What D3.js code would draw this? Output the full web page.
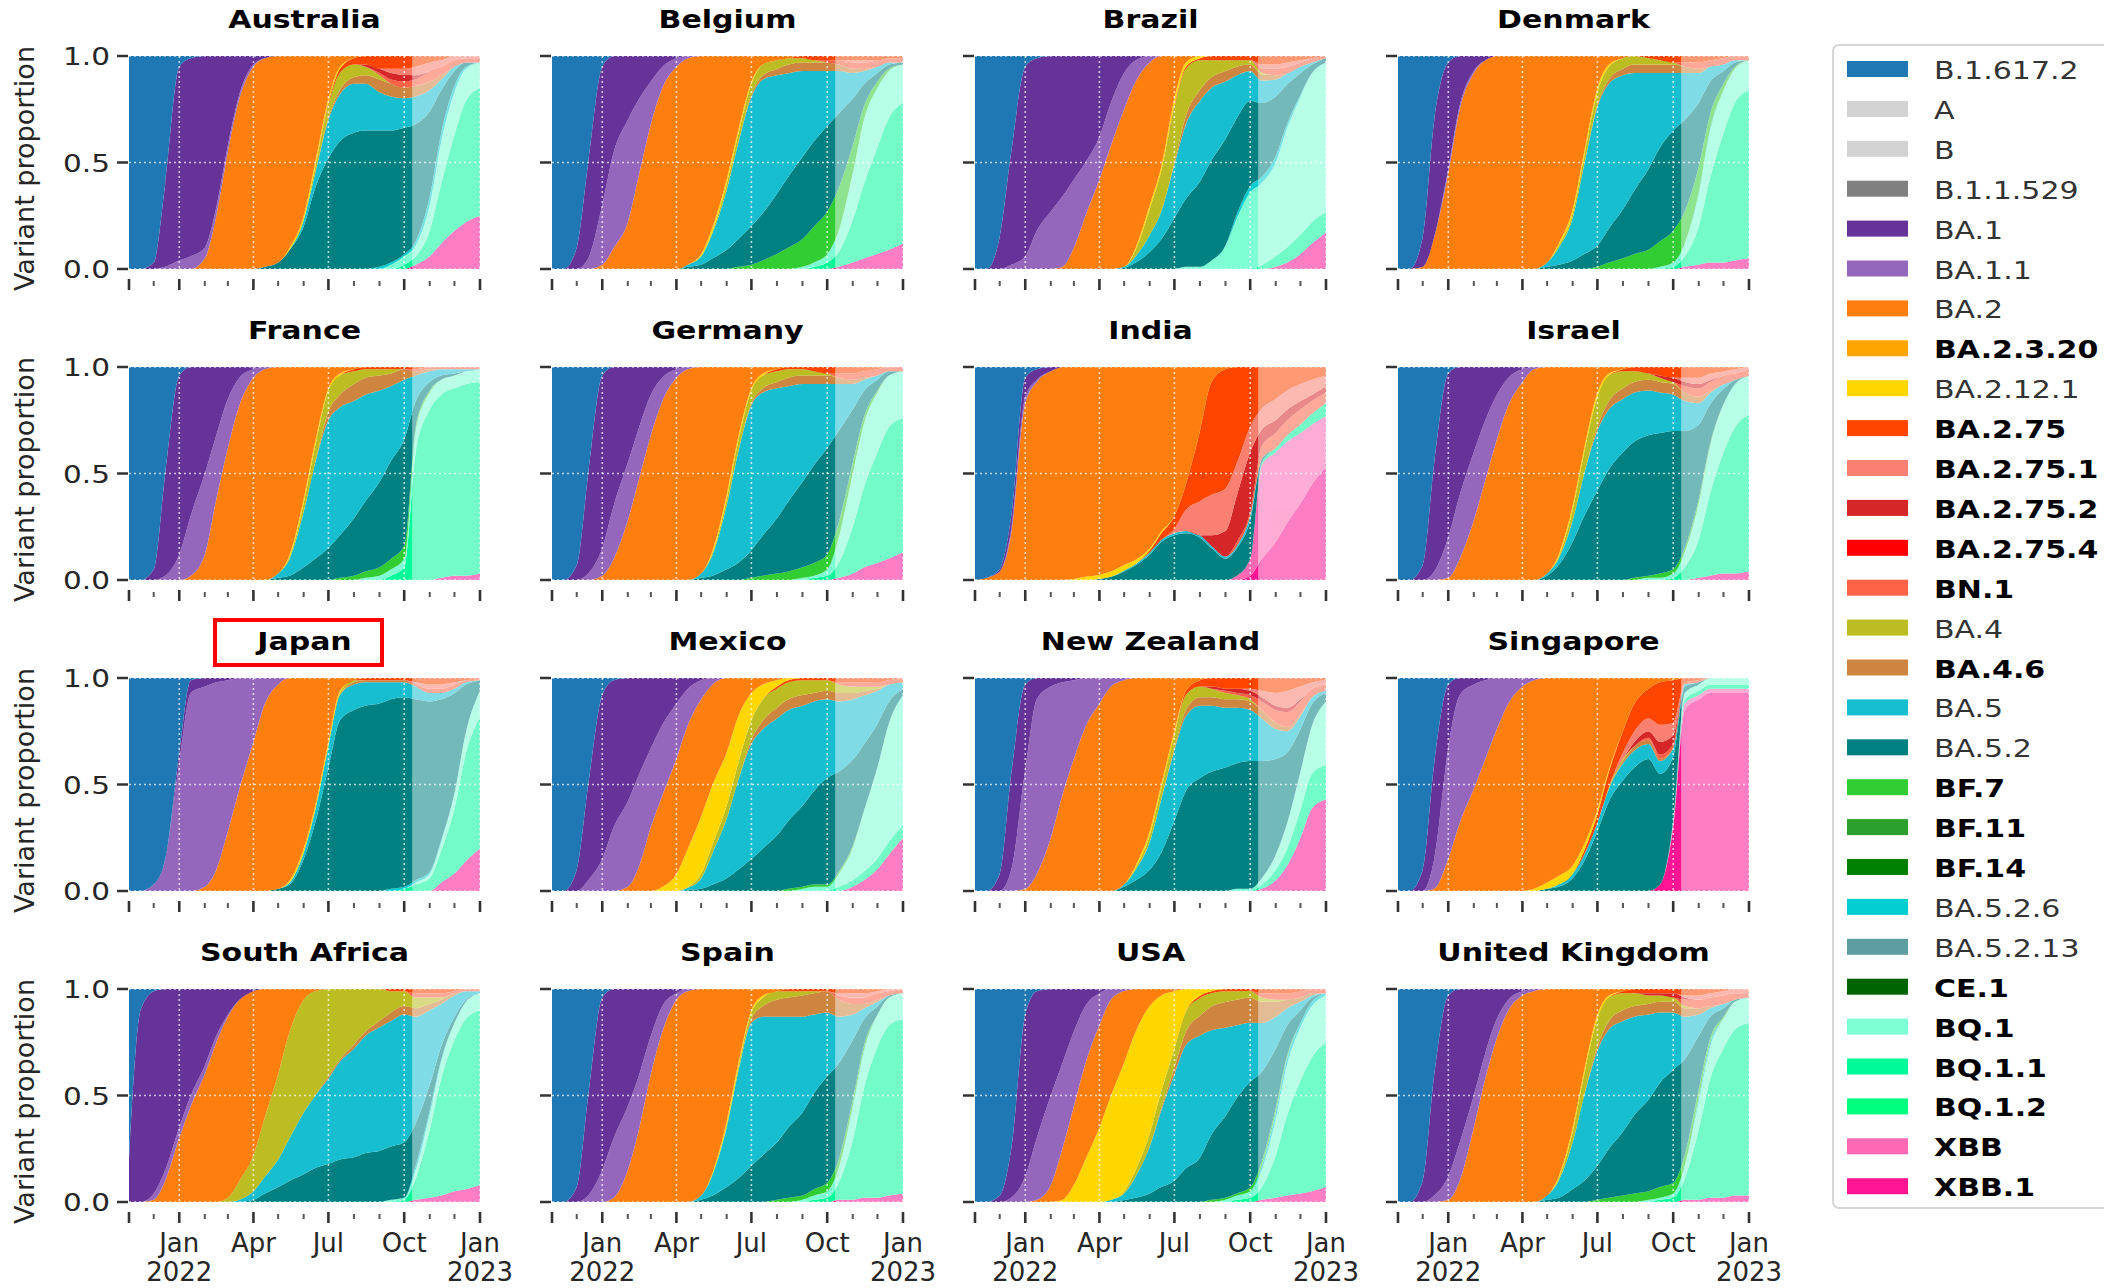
<!DOCTYPE html>
<html><head><meta charset="utf-8">
<script src="https://cdn.jsdelivr.net/npm/d3@7"></script>
<style>body{margin:0;background:#fff;} svg text{font-family:"DejaVu Sans",sans-serif;}</style>
</head><body>
<svg id="chart" width="2104" height="1288"></svg>
<script>
const dates = ["2021-11-01","2021-11-15","2021-12-01","2021-12-15","2022-01-01","2022-01-15","2022-02-01","2022-02-15","2022-03-01","2022-03-15","2022-04-01","2022-04-15","2022-05-01","2022-05-15","2022-06-01","2022-06-15","2022-07-01","2022-07-15","2022-08-01","2022-08-15","2022-09-01","2022-09-15","2022-10-01","2022-10-15","2022-11-01","2022-11-15","2022-12-01","2022-12-15","2023-01-01"];
const forecastStart = "2022-10-11";
const variants = ["B.1.617.2","A","B","B.1.1.529","BA.1","BA.1.1","BA.2","BA.2.3.20","BA.2.12.1","BA.2.75","BA.2.75.1","BA.2.75.2","BA.2.75.4","BN.1","BA.4","BA.4.6","BA.5","BA.5.2","BF.7","BF.11","BF.14","BA.5.2.6","BA.5.2.13","CE.1","BQ.1","BQ.1.1","BQ.1.2","XBB","XBB.1"];
const variantColors = ["#1f77b4","#d3d3d3","#d3d3d3","#808080","#663399","#9467bd","#ff7f0e","#ffa500","#ffd700","#ff4500","#fa8072","#d62728","#ff0000","#ff6347","#bcbd22","#cd853f","#17becf","#008080","#32cd32","#2ca02c","#008000","#00ced1","#5f9ea0","#006400","#7fffd4","#00fa9a","#00ff7f","#ff69b4","#ff1493"];
const boldVariants = ["BA.2.3.20","BA.2.75","BA.2.75.1","BA.2.75.2","BA.2.75.4","BN.1","BA.4.6","BF.7","BF.11","BF.14","CE.1","BQ.1","BQ.1.1","BQ.1.2","XBB","XBB.1"];
const countries = ["Australia","Belgium","Brazil","Denmark","France","Germany","India","Israel","Japan","Mexico","New Zealand","Singapore","South Africa","Spain","USA","United Kingdom"];
const highlighted = ["Japan"];
const xLabelDates = ["2022-01-01","2022-04-01","2022-07-01","2022-10-01","2023-01-01"];
const xLabelLines = [["Jan","2022"],["Apr"],["Jul"],["Oct"],["Jan","2023"]];
const yTickValues = [0, 0.5, 1];
const yTickLabels = ["0.0","0.5","1.0"];

// [variant, first half-month index, shares...]
const australia = [
 ["B.1.617.2",0,[1,.99,.97,.6,.05,.01]],
 ["BA.1",2,[.03,.39,.91,.93,.9,.71,.42,.18,.04,.01]],
 ["BA.1.1",3,[.01,.04,.06,.05,.04,.03,.02,.01]],
 ["BA.2",6,[.05,.25,.55,.8,.95,.98,.97,.9,.75,.5,.2,.05,.01]],
 ["BA.2.12.1",13,[.01,.02,.02,.02,.01]],
 ["BA.2.75",16,[.01,.02,.03,.04,.06,.06,.06,.05,.03,.02]],
 ["BA.2.75.1",21,[.02,.03,.04,.04,.03,.02,.01,.01]],
 ["BA.2.75.2",19,[.01,.02,.03,.03,.02]],
 ["BN.1",20,[.01,.02,.03,.03,.05,.04,.03,.02,.02]],
 ["BA.4",15,[.03,.06,.08,.06,.04,.02]],
 ["BA.4.6",16,[.01,.02,.03,.04,.06,.06,.05,.05,.04,.02]],
 ["BA.5",14,[.03,.07,.18,.22,.23,.22,.18,.16,.14,.13,.1,.05,.02]],
 ["BA.5.2",11,[.01,.03,.09,.2,.38,.52,.6,.64,.65,.64,.62,.6,.55,.4,.2,.07,.02]],
 ["BA.5.2.6",20,[.01,.01,.01,.02,.04,.04,.03,.01]],
 ["BQ.1",21,[.02,.04,.05,.12,.2,.2,.15,.12]],
 ["BQ.1.1",22,[.02,.04,.12,.28,.45,.57,.6]],
 ["XBB.1",23,[.02,.06,.12,.18,.22,.25]]
];
const belgium = [
 ["B.1.617.2",0,[1,.99,.9,.5,.05]],
 ["BA.1",2,[.1,.45,.65,.45,.3,.2,.12,.05,.01]],
 ["BA.1.1",3,[.05,.28,.45,.48,.35,.2,.1,.04,.01]],
 ["BA.2",4,[.02,.1,.22,.45,.68,.85,.95,.97,.93,.8,.58,.35,.12,.04,.02,.01]],
 ["BA.2.12.1",12,[.01,.02,.02,.02,.01]],
 ["BA.2.75",20,[.01,.02,.02,.02,.02,.02,.02,.01,.01]],
 ["BA.2.75.1",24,[.01,.01]],
 ["BN.1",22,[.01,.02,.03,.03,.03,.02,.02]],
 ["BA.4",13,[.01,.03,.04,.05,.05,.04,.03,.02,.01]],
 ["BA.4.6",16,[.01,.02,.03,.04,.04,.04,.04,.03,.02,.01]],
 ["BA.5",11,[.01,.04,.12,.28,.45,.6,.62,.55,.48,.4,.33,.26,.2,.12,.06,.03,.01]],
 ["BA.5.2",11,[.01,.02,.05,.09,.13,.18,.22,.28,.33,.38,.4,.4,.35,.22,.1,.04,.02,.01]],
 ["BF.7",15,[.01,.02,.04,.07,.1,.13,.17,.2,.2,.13,.06,.03,.01]],
 ["BQ.1",20,[.01,.02,.04,.1,.22,.3,.28,.22,.18]],
 ["BQ.1.1",21,[.01,.03,.07,.2,.35,.5,.62,.66]],
 ["XBB.1",23,[.01,.03,.05,.07,.09,.12]]
];
const brazil = [
 ["B.1.617.2",0,[1,.97,.85,.45,.05,.01]],
 ["BA.1",2,[.15,.53,.89,.81,.73,.66,.58,.5,.38,.22,.08,.02]],
 ["BA.1.1",3,[.02,.06,.18,.27,.33,.32,.25,.2,.2,.17,.1,.03]],
 ["BA.2",7,[.01,.1,.25,.42,.58,.74,.78,.67,.52,.2,.03]],
 ["BA.2.12.1",13,[.01,.02,.02,.03,.02,.01]],
 ["BA.2.75",16,[.01,.01,.01,.02,.02,.02,.02,.04,.04,.03,.02,.01]],
 ["BA.2.75.1",23,[.02,.02,.02,.01]],
 ["BN.1",23,[.02,.03,.03,.02,.02,.01]],
 ["BA.4",13,[.03,.12,.19,.26,.22,.14,.08,.05,.03,.02,.01]],
 ["BA.4.6",16,[.01,.04,.05,.05,.05,.04,.03,.03,.02]],
 ["BA.5",12,[.005,.03,.08,.13,.25,.35,.38,.34,.27,.2,.14,.11,.08,.05,.03,.01]],
 ["BA.5.2",12,[.005,.03,.08,.14,.24,.32,.4,.47,.5,.45,.4,.36,.28,.18,.1,.04,.02]],
 ["BA.5.2.6",21,[.02,.03,.03,.03,.02,.01]],
 ["BQ.1",17,[.01,.01,.04,.11,.24,.36,.4,.44,.55,.64,.7,.7]],
 ["BQ.1.1",23,[.02,.05,.07,.09,.1,.1]],
 ["XBB.1",24,[.01,.03,.07,.12,.17]]
];
const denmark = [
 ["B.1.617.2",0,[1,.99,.85,.3,.03]],
 ["BA.1",2,[.14,.55,.5,.23,.07,.02]],
 ["BA.1.1",4,[.02,.02,.01]],
 ["BA.2",2,[.01,.15,.45,.75,.92,.98,1,1,1,1,.97,.88,.72,.45,.15,.04,.01]],
 ["BA.2.12.1",13,[.01,.02,.02,.02,.01]],
 ["BA.2.75",20,[.01,.02,.03,.03,.03,.02,.01]],
 ["BN.1",23,[.02,.03,.03,.03,.02,.02]],
 ["BA.4",13,[.01,.02,.04,.06,.06,.05,.04,.03,.02,.01]],
 ["BA.4.6",16,[.01,.02,.03,.04,.04,.04,.04,.03,.02]],
 ["BA.5",12,[.02,.08,.2,.42,.65,.68,.63,.55,.45,.35,.27,.22,.14,.07,.03,.01]],
 ["BA.5.2",12,[.01,.02,.04,.07,.1,.16,.23,.3,.38,.44,.47,.43,.3,.15,.06,.02]],
 ["BF.7",16,[.01,.03,.05,.07,.09,.12,.15,.15,.12,.07,.03,.01]],
 ["BA.5.2.6",24,[.01,.01]],
 ["BQ.1",21,[.01,.02,.06,.15,.22,.2,.16,.14]],
 ["BQ.1.1",22,[.01,.05,.18,.4,.6,.74,.79]],
 ["XBB.1",23,[.01,.02,.03,.03,.04,.05]]
];
const france = [
 ["B.1.617.2",0,[1,1,.95,.5,.04]],
 ["BA.1",2,[.05,.48,.84,.69,.5,.32,.15,.05,.01]],
 ["BA.1.1",3,[.02,.12,.28,.38,.3,.23,.13,.04,.01]],
 ["BA.2",5,[.02,.12,.38,.62,.82,.95,.99,.97,.88,.62,.35,.1,.03,.01]],
 ["BA.2.12.1",13,[.01,.02,.02,.01,.01]],
 ["BA.2.75",18,[.01,.01,.01,.01,.01,.01]],
 ["BN.1",23,[.01,.01,.01,.01,.01,.01]],
 ["BA.4",13,[.01,.04,.08,.1,.09,.06,.04,.03,.02]],
 ["BA.4.6",16,[.04,.06,.08,.08,.07,.06,.05,.02,.01]],
 ["BA.5",12,[.02,.08,.26,.45,.6,.6,.55,.5,.43,.35,.28,.12,.05,.03,.02,.01]],
 ["BA.5.2",12,[.01,.02,.06,.1,.15,.2,.27,.33,.4,.46,.5,.12,.04,.02,.01]],
 ["BF.7",17,[.01,.02,.03,.04,.05,.06,.02,.01]],
 ["BQ.1",19,[.01,.02,.03,.04,.1,.08,.07,.06,.06,.06]],
 ["BQ.1.1",21,[.02,.06,.6,.8,.86,.88,.9,.9]],
 ["XBB.1",25,[.01,.02,.02,.03]]
];
const germany = [
 ["B.1.617.2",0,[1,1,.93,.5,.04]],
 ["BA.1",2,[.07,.47,.81,.65,.45,.28,.13,.05,.01]],
 ["BA.1.1",3,[.03,.13,.25,.27,.24,.19,.11,.04,.01]],
 ["BA.2",4,[.02,.1,.28,.48,.68,.84,.95,.99,.97,.86,.6,.33,.1,.03,.01]],
 ["BA.2.12.1",13,[.01,.02,.02,.01,.01]],
 ["BA.2.75",18,[.01,.01,.01,.02,.03,.03,.03,.02,.01]],
 ["BN.1",23,[.02,.03,.03,.03,.02,.02]],
 ["BA.4",13,[.01,.03,.05,.06,.06,.05,.04,.03,.02,.01]],
 ["BA.4.6",16,[.01,.02,.03,.04,.04,.04,.04,.03,.02,.01]],
 ["BA.5",12,[.02,.1,.3,.52,.68,.67,.61,.54,.46,.38,.3,.22,.12,.05,.02]],
 ["BA.5.2",12,[.01,.02,.05,.08,.13,.19,.26,.33,.4,.46,.5,.43,.25,.12,.05,.02]],
 ["BF.7",16,[.01,.02,.03,.04,.05,.06,.07,.07,.05,.03,.01]],
 ["BQ.1",20,[.01,.01,.03,.12,.25,.3,.28,.24,.22]],
 ["BQ.1.1",21,[.01,.02,.07,.22,.38,.52,.61,.63]],
 ["XBB.1",23,[.01,.03,.06,.08,.1,.13]]
];
const india = [
 ["B.1.617.2",0,[1,.99,.95,.7,.05,.01]],
 ["BA.1",2,[.01,.06,.09,.05,.02]],
 ["BA.1.1",3,[.02,.03,.01]],
 ["BA.2",1,[.01,.04,.22,.83,.93,.98,1,.995,.985,.975,.96,.93,.91,.86,.78,.7,.55,.3,.07,.01]],
 ["BA.2.12.1",8,[.005,.015,.02,.025,.025,.02,.01,.01]],
 ["BA.2.75",14,[.01,.03,.06,.12,.33,.53,.56,.45,.28,.2,.15,.11,.08,.06,.04]],
 ["BA.2.75.1",16,[.02,.1,.16,.19,.2,.15,.12,.1,.1,.09,.08,.07,.05]],
 ["BA.2.75.2",19,[.05,.12,.22,.28,.08,.06,.05,.04,.03,.03]],
 ["BN.1",21,[.02,.02,.06,.07,.07,.07,.06,.05]],
 ["BA.5",12,[.005,.005,.01,.01,.01,.01,.01,.01,.01,.01,.02]],
 ["BA.5.2",10,[.005,.015,.04,.07,.12,.18,.21,.22,.2,.15,.1,.13,.18,.02]],
 ["BQ.1.1",23,[.01,.02,.03,.04,.05,.06]],
 ["XBB",21,[.02,.08,.45,.42,.38,.33,.28,.24]],
 ["XBB.1",22,[.02,.1,.18,.27,.36,.45,.53]]
];
const israel = [
 ["B.1.617.2",0,[1,.99,.93,.45,.03]],
 ["BA.1",2,[.07,.51,.77,.6,.4,.25,.13,.05,.01]],
 ["BA.1.1",3,[.04,.19,.3,.32,.28,.21,.13,.06,.01]],
 ["BA.2",4,[.01,.1,.28,.47,.66,.82,.93,.99,.97,.88,.65,.38,.12,.03,.01]],
 ["BA.2.12.1",13,[.01,.02,.02,.02,.01]],
 ["BA.2.75",18,[.01,.02,.03,.04,.05,.05,.05,.03,.02,.01]],
 ["BA.2.75.1",23,[.02,.03,.03,.02,.02,.01]],
 ["BA.2.75.2",21,[.01,.02,.02,.02,.01]],
 ["BN.1",23,[.03,.04,.04,.04,.03,.03]],
 ["BA.4",13,[.01,.05,.1,.14,.12,.08,.05,.03,.02,.01]],
 ["BA.4.6",16,[.02,.04,.05,.05,.05,.05,.05,.04,.03,.01]],
 ["BA.5",12,[.01,.03,.1,.2,.28,.28,.25,.23,.21,.19,.17,.14,.1,.05,.02]],
 ["BA.5.2",12,[.02,.07,.18,.3,.42,.52,.6,.64,.66,.66,.65,.55,.35,.18,.07,.02]],
 ["BF.7",19,[.01,.01,.02,.02,.02,.02,.01]],
 ["BQ.1",20,[.01,.01,.02,.07,.17,.22,.22,.2,.18]],
 ["BQ.1.1",22,[.01,.06,.18,.38,.55,.68,.72]],
 ["XBB.1",24,[.01,.02,.03,.03,.04]]
];
const japan = [
 ["B.1.617.2",0,[1,1,.97,.85,.35,.01]],
 ["BA.1",4,[.05,.06,.04,.02,.01]],
 ["BA.1.1",2,[.03,.15,.6,.93,.94,.88,.71,.52,.3,.12,.03]],
 ["BA.2",6,[.02,.1,.28,.48,.7,.88,.96,.95,.8,.6,.3,.06,.01]],
 ["BA.2.12.1",13,[.01,.02,.02,.02,.01]],
 ["BA.2.75",19,[.01,.01,.01,.01,.02,.03,.03,.02,.01]],
 ["BA.2.75.1",23,[.01,.02,.02,.01]],
 ["BN.1",23,[.01,.02,.02,.02,.01,.01]],
 ["BA.4",17,[.01,.01]],
 ["BA.4.6",18,[.01,.01,.01,.01,.01]],
 ["BA.5",13,[.01,.03,.06,.1,.12,.12,.11,.1,.08,.07,.06,.04,.03,.02,.01]],
 ["BA.5.2",12,[.01,.03,.15,.32,.58,.8,.85,.87,.88,.89,.89,.85,.8,.66,.46,.22,.05]],
 ["BA.5.2.6",21,[.01,.01,.01,.01,.01]],
 ["BQ.1",23,[.01,.02,.04,.07,.1,.12]],
 ["BQ.1.1",22,[.01,.03,.06,.15,.3,.5,.62]],
 ["XBB.1",25,[.04,.08,.14,.2]]
];
const mexico = [
 ["B.1.617.2",0,[1,1,.9,.5,.08,.01]],
 ["BA.1",2,[.1,.45,.77,.69,.58,.45,.33,.22,.12,.05,.01]],
 ["BA.1.1",3,[.05,.15,.3,.4,.43,.37,.33,.26,.17,.09,.03]],
 ["BA.2",6,[.02,.12,.3,.43,.54,.58,.55,.47,.35,.18,.07,.03,.01]],
 ["BA.2.12.1",9,[.02,.08,.18,.27,.28,.25,.22,.13,.07,.03,.01]],
 ["BA.2.75",18,[.01,.01,.01,.01,.01,.02,.02,.02,.02,.01]],
 ["BN.1",23,[.01,.02,.02,.02,.02,.02]],
 ["BA.4",11,[.005,.02,.04,.06,.08,.09,.1,.09,.08,.07,.06,.05,.04,.03,.02,.01]],
 ["BA.4.6",16,[.02,.04,.05,.05,.05,.04,.04,.04,.03,.02,.01]],
 ["BA.5",11,[.01,.05,.15,.28,.42,.54,.56,.55,.52,.47,.42,.37,.33,.28,.22,.15,.08,.03]],
 ["BA.5.2",11,[.005,.01,.03,.06,.1,.15,.2,.26,.32,.38,.44,.5,.47,.4,.3,.2,.1,.03]],
 ["BF.7",19,[.01,.01,.01,.01,.01,.01]],
 ["BQ.1",20,[.01,.02,.02,.06,.15,.28,.42,.55,.61]],
 ["BQ.1.1",23,[.02,.03,.04,.05,.06,.06]],
 ["XBB.1",24,[.02,.05,.1,.17,.25]]
];
const newZealand = [
 ["B.1.617.2",0,[1,1,.92,.45,.03]],
 ["BA.1",2,[.08,.45,.4,.1,.04,.02,.01]],
 ["BA.1.1",3,[.1,.56,.82,.71,.53,.37,.23,.12,.04,.01]],
 ["BA.2",4,[.01,.08,.25,.45,.62,.77,.88,.96,.96,.88,.72,.5,.25,.06,.01]],
 ["BA.2.12.1",13,[.01,.02,.02,.02]],
 ["BA.2.75",17,[.02,.03,.04,.05,.05,.05,.06,.07,.06,.04,.02,.01]],
 ["BA.2.75.1",22,[.01,.03,.06,.08,.06,.03,.02]],
 ["BA.2.75.2",19,[.01,.01,.02,.02,.02,.02,.02,.01]],
 ["BN.1",20,[.01,.01,.02,.04,.06,.07,.06,.04,.03]],
 ["BA.4",13,[.01,.03,.05,.06,.07,.05,.04,.03,.02,.01]],
 ["BA.4.6",16,[.01,.03,.04,.04,.04,.04,.04,.04,.03,.02,.01]],
 ["BA.5",12,[.01,.05,.13,.25,.33,.35,.34,.31,.28,.26,.24,.2,.14,.1,.06,.03,.01]],
 ["BA.5.2",12,[.02,.05,.1,.18,.33,.47,.53,.56,.58,.59,.6,.55,.45,.33,.2,.1,.04]],
 ["BQ.1",21,[.01,.01,.03,.07,.12,.18,.22,.3]],
 ["BQ.1.1",23,[.02,.05,.08,.13,.16,.16]],
 ["XBB.1",23,[.01,.05,.12,.25,.38,.43]]
];
const singapore = [
 ["B.1.617.2",0,[1,1,.9,.4,.03]],
 ["BA.1",2,[.1,.45,.3,.08,.03,.01]],
 ["BA.1.1",3,[.14,.52,.6,.49,.37,.24,.12,.04,.01]],
 ["BA.2",3,[.01,.15,.32,.48,.62,.76,.88,.96,.98,.96,.93,.88,.78,.62,.43,.25,.12,.05,.02,.01]],
 ["BA.2.12.1",11,[.01,.03,.04,.04,.03,.02,.01]],
 ["BA.2.75",15,[.02,.04,.07,.1,.13,.14,.2,.2,.02,.01]],
 ["BA.2.75.1",18,[.03,.05,.06,.08,.06]],
 ["BA.2.75.2",19,[.02,.03,.06,.04]],
 ["BN.1",20,[.01,.02,.02,.01,.01]],
 ["BA.4",17,[.01,.01]],
 ["BA.4.6",18,[.01,.02,.02,.01]],
 ["BA.5",13,[.01,.02,.03,.04,.06,.08,.08,.07,.06,.04,.01]],
 ["BA.5.2",12,[.01,.02,.06,.14,.28,.42,.52,.58,.62,.52,.3,.03,.01]],
 ["BQ.1",22,[.01,.03,.03,.03,.03,.03,.03]],
 ["BQ.1.1",23,[.02,.02,.02,.02,.02,.02]],
 ["XBB",22,[.02,.03,.02,.02,.02,.02,.02]],
 ["XBB.1",21,[.03,.3,.85,.9,.93,.93,.93,.93]]
];
const southAfrica = [
 ["B.1.617.2",0,[.8,.1,.01]],
 ["BA.1",0,[.2,.9,.95,.85,.65,.5,.36,.22,.12,.05,.01]],
 ["BA.1.1",2,[.03,.05,.05,.05,.04,.03,.01]],
 ["BA.2",2,[.01,.1,.3,.45,.6,.75,.85,.85,.77,.6,.4,.2,.05,.01]],
 ["BA.2.75",21,[.01,.01,.02,.02,.02,.01]],
 ["BN.1",23,[.02,.02,.02,.01,.01,.01]],
 ["BA.4",8,[.02,.09,.17,.28,.4,.5,.53,.49,.41,.33,.26,.2,.15,.1,.07,.05,.03,.01]],
 ["BA.4.6",16,[.01,.01,.02,.02,.03,.04,.04,.04,.03,.02,.01]],
 ["BA.5",9,[.01,.04,.08,.13,.2,.29,.34,.4,.46,.51,.55,.58,.59,.6,.5,.35,.2,.1,.04,.01]],
 ["BA.5.2",10,[.01,.04,.07,.1,.13,.16,.18,.2,.21,.23,.24,.25,.26,.2,.12,.06,.03,.01]],
 ["BA.5.2.6",23,[.02,.02,.01]],
 ["BQ.1",21,[.01,.01,.04,.07,.08,.08,.08,.08]],
 ["BQ.1.1",22,[.01,.1,.32,.55,.71,.8,.82]],
 ["XBB.1",23,[.01,.02,.03,.05,.06,.08]]
];
const spain = [
 ["B.1.617.2",0,[1,1,.93,.5,.04]],
 ["BA.1",2,[.07,.47,.81,.7,.55,.4,.22,.08,.02]],
 ["BA.1.1",3,[.03,.15,.28,.3,.25,.18,.12,.03,.01]],
 ["BA.2",5,[.02,.15,.35,.6,.8,.95,.99,.97,.86,.62,.35,.1,.03,.01]],
 ["BA.2.12.1",13,[.01,.02,.02,.01,.01]],
 ["BA.2.75",19,[.01,.01,.01,.01,.02,.02,.02,.01]],
 ["BA.2.75.1",23,[.01,.02,.02,.01,.01]],
 ["BN.1",23,[.02,.03,.03,.03,.02,.02]],
 ["BA.4",14,[.01,.02,.03,.04,.04,.03,.02,.01]],
 ["BA.4.6",16,[.02,.05,.08,.09,.1,.1,.1,.08,.05,.02,.01]],
 ["BA.5",12,[.02,.1,.28,.5,.67,.65,.59,.52,.45,.37,.3,.22,.12,.05,.02]],
 ["BA.5.2",12,[.01,.03,.07,.11,.17,.22,.27,.33,.39,.45,.5,.45,.28,.12,.04,.01]],
 ["BF.7",18,[.01,.02,.02,.03,.04,.04,.03,.02]],
 ["BA.5.2.6",24,[.01,.01]],
 ["BQ.1",20,[.01,.02,.03,.07,.15,.17,.15,.13,.12]],
 ["BQ.1.1",21,[.01,.02,.08,.28,.52,.7,.79,.81]],
 ["XBB.1",23,[.01,.01,.02,.02,.03,.04]]
];
const usa = [
 ["B.1.617.2",0,[1,1,.97,.75,.12,.01]],
 ["BA.1",2,[.03,.23,.76,.69,.5,.35,.2,.08,.02]],
 ["BA.1.1",3,[.02,.12,.29,.42,.4,.35,.27,.15,.05,.01]],
 ["BA.2",5,[.01,.08,.24,.37,.45,.48,.45,.34,.2,.08,.03,.01]],
 ["BA.2.12.1",7,[.01,.08,.2,.35,.49,.61,.65,.6,.45,.27,.1,.03,.01]],
 ["BA.2.75",18,[.01,.01,.01,.01,.01,.02,.02,.02,.01]],
 ["BN.1",23,[.02,.03,.03,.03,.02,.02]],
 ["BA.4",12,[.01,.03,.06,.08,.09,.09,.08,.06,.05,.04,.03,.02,.01]],
 ["BA.4.6",15,[.01,.03,.06,.09,.11,.12,.12,.12,.1,.07,.04,.02,.01]],
 ["BA.5",11,[.01,.03,.1,.22,.36,.5,.55,.55,.48,.41,.34,.28,.23,.15,.08,.04,.01]],
 ["BA.5.2",12,[.01,.02,.04,.07,.1,.15,.2,.3,.38,.45,.5,.42,.28,.14,.06,.02]],
 ["BF.7",19,[.01,.01,.01,.02,.02,.02,.01]],
 ["BA.5.2.6",23,[.02,.03,.03,.02,.02,.01]],
 ["BQ.1",20,[.01,.02,.03,.08,.17,.24,.25,.24,.22]],
 ["BQ.1.1",21,[.01,.02,.06,.2,.38,.53,.63,.68]],
 ["XBB.1",23,[.01,.02,.03,.04,.05,.07]]
];
const unitedKingdom = [
 ["B.1.617.2",0,[1,1,.9,.4,.03]],
 ["BA.1",2,[.1,.57,.85,.72,.5,.3,.14,.05,.01]],
 ["BA.1.1",3,[.03,.11,.18,.15,.12,.09,.05,.02,.01]],
 ["BA.2",4,[.01,.1,.35,.58,.77,.9,.97,.99,.97,.88,.65,.38,.12,.03,.01]],
 ["BA.2.12.1",13,[.01,.02,.02,.02,.01]],
 ["BA.2.75",18,[.01,.02,.02,.02,.02,.03,.03,.02,.01]],
 ["BA.2.75.1",23,[.01,.02,.02,.02,.02,.02]],
 ["BA.2.75.2",20,[.01,.01,.02,.01]],
 ["BN.1",23,[.03,.04,.04,.04,.03,.02]],
 ["BA.4",13,[.01,.05,.1,.13,.11,.08,.06,.04,.03,.02,.01]],
 ["BA.4.6",16,[.02,.04,.05,.05,.05,.05,.05,.04,.03,.01]],
 ["BA.5",12,[.02,.08,.22,.4,.54,.56,.52,.46,.4,.33,.27,.2,.1,.04,.02]],
 ["BA.5.2",12,[.01,.02,.06,.1,.16,.23,.3,.37,.43,.49,.53,.45,.25,.1,.04,.01]],
 ["BF.7",16,[.01,.02,.03,.04,.04,.05,.05,.05,.04,.02,.01]],
 ["BA.5.2.6",24,[.02,.02]],
 ["BQ.1",20,[.01,.01,.02,.06,.13,.15,.14,.13,.12]],
 ["BQ.1.1",21,[.01,.02,.1,.33,.56,.7,.78,.81]],
 ["XBB.1",23,[.01,.01,.02,.02,.03,.03]]
];
const countryData = [australia,belgium,brazil,denmark,france,germany,india,israel,japan,mexico,newZealand,singapore,southAfrica,spain,usa,unitedKingdom];

// ---------- drawing ----------
const svg = d3.select("#chart");
const parse = d3.utcParse("%Y-%m-%d");
const times = dates.map(parse);
const panelW = 351, panelH = 213, left0 = 129, top0 = 56, colStep = 423, rowStep = 311;
const x = d3.scaleUtc().domain([parse("2021-11-01"), parse("2023-01-01")]).range([0, panelW]);
const y = d3.scaleLinear().domain([0, 1]).range([panelH, 0]);
const colorOf = d3.scaleOrdinal().domain(variants).range(variantColors);
const stack = d3.stack().keys(variants.slice().reverse()).offset(d3.stackOffsetExpand);
const area = d3.area().x(d => x(d.data.date)).y0(d => y(d[0])).y1(d => y(d[1])).curve(d3.curveMonotoneX);
const xCut = x(parse(forecastStart));
const textColor = "#262626";

const defs = svg.append("defs");
defs.append("clipPath").attr("id", "clipPast").append("rect").attr("x", 0).attr("y", 0).attr("width", xCut).attr("height", panelH);
defs.append("clipPath").attr("id", "clipFuture").append("rect").attr("x", xCut).attr("y", 0).attr("width", panelW - xCut).attr("height", panelH);

function buildTable(entries) {
  return times.map((t, i) => {
    const row = {date: t};
    variants.forEach(v => row[v] = 0);
    entries.forEach(([v, s, vals]) => { const k = i - s; if (k >= 0 && k < vals.length) row[v] = vals[k]; });
    return row;
  });
}

const monthTicks = d3.utcMonth.range(parse("2021-11-01"), parse("2023-01-02"));
const isMajor = d => d.getUTCMonth() % 3 === 0 || +d === +parse("2021-11-01");
const gridDates = xLabelDates.map(parse);

countries.forEach((name, ci) => {
  const col = ci % 4, row = Math.floor(ci / 4);
  const g = svg.append("g").attr("transform", `translate(${left0 + col * colStep},${top0 + row * rowStep})`);
  const series = stack(buildTable(countryData[ci]));

  const past = g.append("g").attr("clip-path", "url(#clipPast)");
  const future = g.append("g").attr("clip-path", "url(#clipFuture)").attr("opacity", 0.55);
  [past, future].forEach(layer => {
    layer.selectAll("path").data(series).join("path")
      .attr("fill", d => colorOf(d.key)).attr("d", area);
  });

  // grid
  const grid = g.append("g").attr("stroke", "#ffffff").attr("stroke-opacity", 0.7)
    .attr("stroke-width", 1.6).attr("stroke-dasharray", "2,3");
  grid.selectAll("line.v").data(gridDates).join("line").attr("class", "v")
    .attr("x1", d => x(d)).attr("x2", d => x(d)).attr("y1", 0).attr("y2", panelH);
  grid.selectAll("line.h").data(yTickValues).join("line").attr("class", "h")
    .attr("x1", 0).attr("x2", panelW).attr("y1", d => y(d)).attr("y2", d => y(d));

  // y ticks
  g.selectAll("line.yt").data(yTickValues).join("line").attr("class", "yt")
    .attr("x1", -12).attr("x2", -1).attr("y1", d => y(d)).attr("y2", d => y(d))
    .attr("stroke", "#333").attr("stroke-width", 2.5);
  // x ticks
  g.selectAll("line.xt").data(monthTicks).join("line").attr("class", "xt")
    .attr("x1", d => x(d)).attr("x2", d => x(d))
    .attr("y1", d => panelH + (isMajor(d) ? 10 : 12))
    .attr("y2", d => panelH + (isMajor(d) ? 21 : 17))
    .attr("stroke", d => isMajor(d) ? "#333" : "#555")
    .attr("stroke-width", d => isMajor(d) ? 2.6 : 2);

  // title
  g.append("g").attr("transform", `translate(${panelW / 2},-28) scale(1.2,1)`)
    .append("text").attr("text-anchor", "middle").attr("font-size", 25)
    .attr("font-weight", "bold").attr("fill", "#000").text(name);
  if (highlighted.includes(name)) {
    g.append("rect").attr("x", 86).attr("y", -58).attr("width", 167).attr("height", 45)
      .attr("fill", "none").attr("stroke", "#ff0000").attr("stroke-width", 4);
  }

  if (col === 0) {
    yTickValues.forEach((v, k) => {
      g.append("g").attr("transform", `translate(-19,${y(v)}) scale(1.18,1)`)
        .append("text").attr("text-anchor", "end").attr("dy", "0.36em")
        .attr("font-size", 25).attr("fill", textColor).text(yTickLabels[k]);
    });
    g.append("text").attr("transform", `translate(${-95},${panelH / 2 + 6}) rotate(-90)`)
      .attr("text-anchor", "middle").attr("font-size", 27).attr("fill", textColor)
      .text("Variant proportion");
  }
  if (row === 3) {
    xLabelDates.forEach((ds, k) => {
      xLabelLines[k].forEach((line, li) => {
        g.append("text").attr("text-anchor", "middle").attr("font-size", 26)
          .attr("fill", textColor)
          .attr("x", x(parse(ds))).attr("y", panelH + 50 + li * 29).text(line);
      });
    });
  }
});

// legend
const lx = 1833, ly = 45, lStep = 39.9, lFirst = 69;
svg.append("rect").attr("x", lx).attr("y", ly).attr("width", 300).attr("height", 1163)
  .attr("rx", 6).attr("fill", "#fff").attr("stroke", "#d6d6d6").attr("stroke-width", 2);
variants.forEach((v, k) => {
  const cy = lFirst + k * lStep;
  svg.append("rect").attr("x", 1847).attr("y", cy - 8).attr("width", 61).attr("height", 16)
    .attr("fill", colorOf(v));
  const bold = boldVariants.includes(v);
  svg.append("g").attr("transform", `translate(1934,${cy + 10}) scale(1.2,1)`)
    .append("text").attr("font-size", 25).attr("font-weight", bold ? "bold" : "normal")
    .attr("fill", bold ? "#000" : "#333").text(v);
});
</script>
</body></html>
